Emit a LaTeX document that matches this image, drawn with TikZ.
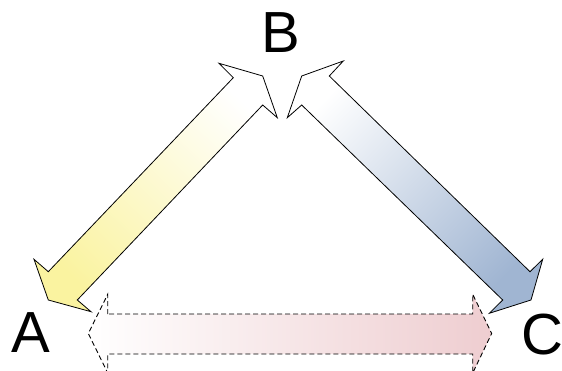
\documentclass[tikz,border=0pt]{standalone}
\usepackage{fontspec}
\setmainfont{Liberation Sans}
\definecolor{ayellow}{RGB}{250,243,160}
\definecolor{ablue}{RGB}{160,181,210}
\definecolor{apink}{RGB}{238,205,208}
\begin{document}
\begin{tikzpicture}[x=1pt,y=-1pt,
  arrowshape/.style={draw=black,line width=0.8pt,line join=miter},
  lbl/.style={inner sep=0pt,font=\fontsize{58}{60}\selectfont}]
\useasboundingbox (0,0) rectangle (562,371);
\clip (0,0) rectangle (562,371);
% A <-> B
\path[arrowshape,top color=white,bottom color=ayellow,shading angle=-44]
  (233.3,77.7) -- (219,63.3) -- (262.7,76) -- (277.3,117.7) -- (262.7,105)
  -- (77.3,300) -- (91,311.7) -- (48.3,300) -- (34,259.3) -- (48.3,271.7) -- cycle;
% B <-> C
\path[arrowshape,top color=ablue,bottom color=white,shading angle=-134]
  (329.3,76) -- (343.3,61) -- (301.7,76) -- (287.3,117.7) -- (301.7,105)
  -- (502.7,300) -- (489.3,313.3) -- (531,300) -- (542.7,259.3) -- (530,271.7) -- cycle;
% A <-> C
\path[arrowshape,line width=0.9pt,dash pattern=on 5pt off 3pt,left color=white,right color=apink]
  (107.7,314) -- (107.7,294.3) -- (88.3,333.5) -- (107.7,373) -- (107.7,354)
  -- (472.7,354) -- (472.7,373) -- (491.7,333.5) -- (472.7,294.3) -- (472.7,314) -- cycle;
\node[lbl] (A) at (30.5,333) {A};
\node[lbl] (B) at (281,33) {B};
\node[lbl] (C) at (542,334.5) {C};
\end{tikzpicture}
\end{document}
